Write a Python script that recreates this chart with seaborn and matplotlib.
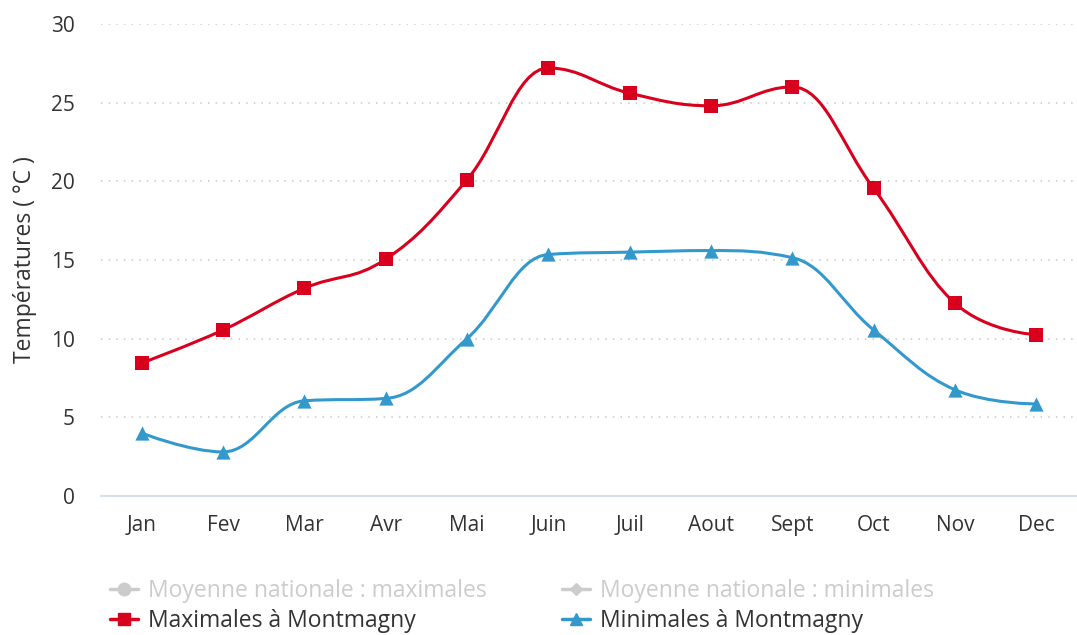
import numpy as np
import pandas as pd
import matplotlib.pyplot as plt
import seaborn as sns
from matplotlib.path import Path
from matplotlib.patches import PathPatch
from matplotlib.lines import Line2D

# Data
mois = ["Jan", "Fev", "Mar", "Avr", "Mai", "Juin", "Juil", "Aout", "Sept", "Oct", "Nov", "Dec"]
maximales = [8.45, 10.55, 13.2, 15.05, 20.1, 27.2, 25.6, 24.8, 26.0, 19.55, 12.25, 10.25]
minimales = [4.0, 2.8, 6.05, 6.2, 10.0, 15.35, 15.5, 15.6, 15.15, 10.55, 6.75, 5.85]

RED = "#d9001d"
BLUE = "#3399cc"
GREY = "#cccccc"
TXT = "#333333"
AXIS = "#ccd6eb"


def spline_path(xs, ys, smoothing=1.5):
    """Highcharts-like spline through the points, as cubic bezier segments."""
    n = len(xs)
    verts, codes = [(xs[0], ys[0])], [Path.MOVETO]
    right = [(xs[0], ys[0])]
    left = [None]
    for i in range(1, n):
        x, y = xs[i], ys[i]
        if i < n - 1:
            lx, ly = xs[i - 1], ys[i - 1]
            nx, ny = xs[i + 1], ys[i + 1]
            d = smoothing + 1
            lcx, lcy = (smoothing * x + lx) / d, (smoothing * y + ly) / d
            rcx, rcy = (smoothing * x + nx) / d, (smoothing * y + ny) / d
            if rcx != lcx:
                corr = (rcy - lcy) * (rcx - x) / (rcx - lcx) + y - rcy
                lcy += corr
                rcy += corr
            if lcy > max(ly, y):
                lcy = max(ly, y); rcy = 2 * y - lcy
            elif lcy < min(ly, y):
                lcy = min(ly, y); rcy = 2 * y - lcy
            if rcy > max(y, ny):
                rcy = max(y, ny); lcy = 2 * y - rcy
            elif rcy < min(y, ny):
                rcy = min(y, ny); lcy = 2 * y - rcy
            left.append((lcx, lcy))
            right.append((rcx, rcy))
        else:
            left.append((x, y))
            right.append((x, y))
    for i in range(1, n):
        verts += [right[i - 1], left[i], (xs[i], ys[i])]
        codes += [Path.CURVE4] * 3
    return Path(verts, codes)


df = pd.DataFrame({"mois": mois, "x": np.arange(len(mois)),
                   "Maximales": maximales, "Minimales": minimales})

sns.set_theme(style="white")
plt.rcParams["font.family"] = ["Open Sans", "DejaVu Sans"]

fig = plt.figure(figsize=(10.77, 6.35), dpi=100)
ax = fig.add_axes([101 / 1077, 139 / 635, (1077 - 101) / 1077, 472 / 635])

for col, color in [("Maximales", RED), ("Minimales", BLUE)]:
    p = spline_path(df["x"].values.astype(float), df[col].values)
    ax.add_patch(PathPatch(p, facecolor="none", edgecolor=color, lw=2.2, zorder=3))

sns.scatterplot(data=df, x="x", y="Maximales", ax=ax, marker="s", s=115,
                color=RED, edgecolor=RED, linewidth=0, zorder=4)
sns.scatterplot(data=df, x="x", y="Minimales", ax=ax, marker="^", s=105,
                color=BLUE, edgecolor=BLUE, linewidth=0, zorder=4)

ax.set_xlim(-0.5, 11.45)
ax.set_ylim(0, 30)
ax.set_yticks(range(0, 31, 5))
ax.set_xticks(range(len(mois)))
ax.set_xticklabels(mois)
ax.set_xticks(np.arange(-0.5, 12, 1), minor=True)
ax.tick_params(axis="x", which="major", length=0, pad=14, labelsize=15, labelcolor=TXT)
ax.tick_params(axis="x", which="minor", length=12, width=1.2, color=AXIS, direction="out")
ax.tick_params(axis="y", length=0, pad=19, labelsize=15, labelcolor=TXT)

for v in range(5, 31, 5):
    ax.axhline(v, color="#c8c8c8", lw=1.1, ls=(0, (1, 4)), zorder=1)

for s in ["top", "right", "left"]:
    ax.spines[s].set_visible(False)
ax.spines["bottom"].set_color(AXIS)
ax.spines["bottom"].set_linewidth(1.2)
ax.set_xlabel("")
ax.set_ylabel("Températures ( °C )", fontsize=16.5, color=TXT)
ax.yaxis.set_label_coords(-0.066, 0.5)

handles = [
    Line2D([], [], color=GREY, marker="o", markersize=9, lw=2.5),
    Line2D([], [], color=RED, marker="s", markersize=9, lw=2.5),
    Line2D([], [], color=GREY, marker="D", markersize=6, lw=2.5),
    Line2D([], [], color=BLUE, marker="^", markersize=9, lw=2.5),
]
labels = ["Moyenne nationale : maximales", "Maximales à Montmagny",
          "Moyenne nationale : minimales", "Minimales à Montmagny"]
leg = fig.legend(handles, labels, ncol=2, loc="lower left",
                 bbox_to_anchor=(110 / 1077, 2 / 635), frameon=False,
                 fontsize=16.5, handlelength=1.2, handletextpad=0.45,
                 columnspacing=3.3, labelspacing=0.25,
                 borderpad=0, borderaxespad=0)
for t, c in zip(leg.get_texts(), [GREY, TXT, GREY, TXT]):
    t.set_color(c)

fig.savefig("out.png", dpi=100)
